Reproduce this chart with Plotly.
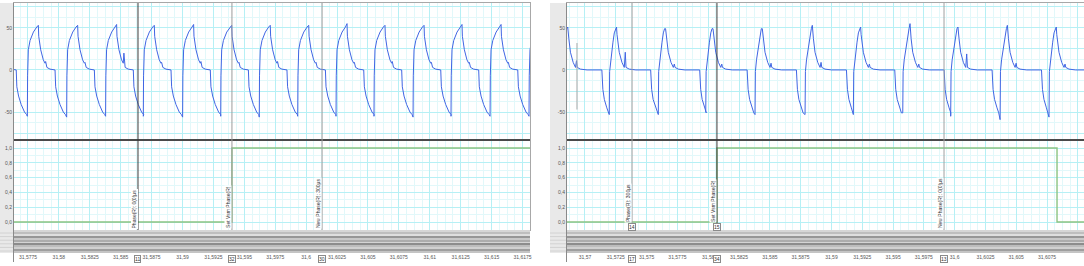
import plotly.graph_objects as go

W, H = 1084, 266
T0 = 31.57  # seconds; every time below is in ms after T0

# ---------------- left capture ----------------
left_range_ms = [6.37, 48.11]
left_jump_ms = [4.31, 7.45, 10.63, 13.78, 16.83, 20.01, 23.09, 26.21, 29.32, 32.42, 35.49, 38.65, 41.72, 44.88, 48.03]
left_trough = [-54, -55, -56, -55, -55, -56, -55, -56, -55, -55, -55, -56, -55, -55, -55]
left_peak = [53, 53, 53, 54, 53, 54, 53, 53, 53, 55, 53, 53, 54, 54, 53]
left_bump = [9, 10, 9, 20, 9, 10, 9, 10, 9, 9, 10, 9, 9, 9, 9]
left_cycle_dt = [0.00, 0.02, 0.08, 0.22, 0.49, 0.76, 0.89, 0.92, 0.97, 1.08, 1.29, 1.43, 1.48, 1.52,
                 1.58, 1.83, 2.05, 2.24, 2.29, 2.43, 2.64, 2.91, 3.08]
left_cycle_y = ["trough", -7, 24, 35, 45, 51, "peak", 40, 33, 24, 12, 8, "bump", 6,
                3, 1, 0, 0, -20, -31, -41, -50, -53]
left_step_ms = [6.37, 24.00, 48.11]
left_step_val = [0, 1, 1]
left_marker_ms = [16.40, 24.00, 31.29]
left_marker_text = ["Phase(R): 0(0)µs", "Set Vsm Phase(R)", "New Phase(R): 300µs"]
left_marker_axis_ids = ["11", "32", "30"]
left_marker_plot_ids = [None, None, None]
left_tick_values = [31.5775, 31.58, 31.5825, 31.585, 31.5875, 31.59, 31.5925, 31.595, 31.5975,
                    31.6, 31.6025, 31.605, 31.6075, 31.61, 31.6125, 31.615, 31.6175]
left_tick_labels = ["31,5775", "31,58", "31,5825", "31,585", "31,5875", "31,59", "31,5925", "31,595",
                    "31,5975", "31,6", "31,6025", "31,605", "31,6075", "31,61", "31,6125", "31,615", "31,6175"]

# ---------------- right capture ----------------
right_range_ms = [-1.46, 40.50]
right_jump_ms = [-1.99, 1.97, 5.95, 9.80, 13.80, 17.86, 21.78, 25.79, 29.68, 33.69, 37.66]
right_trough = [-53, -53, -53, -50, -53, -53, -53, -51, -55, -59, -56]
right_peak = [51, 51, 49, 49, 49, 53, 51, 55, 51, 53, 51]
right_bump = [11, 21, 7, 7, 8, 9, 7, 7, 19, 8, 7]
right_cycle_dt = [0.00, 0.03, 0.12, 0.22, 0.30, 0.41, 0.51, 0.59, 0.63, 0.68, 0.81, 1.03, 1.22, 1.30,
                  1.36, 1.62, 2.16, 3.36, 3.44, 3.56, 3.76, 3.90]
right_cycle_y = ["trough", -2, 12, 22, 33, 44, 49, "peak", 42, 37, 21, 9, 3, "bump",
                 3, 1, 0, 0, -23, -35, -45, -51]
right_step_ms = [-1.46, 10.71, 38.31, 40.50]
right_step_val = [0, 1, 0, 0]
right_marker_ms = [3.82, 10.71, 29.14]
right_marker_text = ["Phase(R): 300µs", "Set Vsm Phase(R)", "New Phase(R): 0(0)µs"]
right_marker_axis_ids = ["17", "34", "13"]
right_marker_plot_ids = ["14", "15", None]
right_cursor_ms = [-0.65, -0.65]
right_cursor_val = [32, -47]
right_tick_values = [31.57, 31.5725, 31.575, 31.5775, 31.58, 31.5825, 31.585, 31.5875, 31.59,
                     31.5925, 31.595, 31.5975, 31.6, 31.6025, 31.605, 31.6075, 31.61]
right_tick_labels = ["31,57", "31,5725", "31,575", "31,5775", "31,58", "31,5825", "31,585", "31,5875",
                     "31,59", "31,5925", "31,595", "31,5975", "31,6", "31,6025", "31,605", "31,6075", "31,61"]

# grey levels of the striped track band (top to bottom)
band_grays = [214, 190, 222, 150, 200, 172, 212, 140, 188, 208, 158, 196]

# ---------------- styles ----------------
WAVE = "#4066e4"
STEP = "#8cc482"
GRID = "#b6f0f5"
GRID_MINOR = "#e2f8fa"
FRAME = "#a8a8a8"
TXT = "#555555"
FONT = "Liberation Sans"
marker_colors = {0: ["#3a3a3a", "#9c9c9c", "#9c9c9c"], 1: ["#a0a0a0", "#3a3a3a", "#a0a0a0"]}


def t(ms):
    return T0 + ms / 1000.0


def px_x(p):
    return p / W


def px_y(p):
    return 1 - p / H


def build_wave(starts, troughs, peaks, bumps, dts, shape):
    xs, ys = [], []
    for s, tr, pk, bp in zip(starts, troughs, peaks, bumps):
        subst = {"trough": tr, "peak": pk, "bump": bp}
        for d, v in zip(dts, shape):
            xs.append(t(s + d))
            ys.append(subst[v] if isinstance(v, str) else v)
    return xs, ys


def ax(n):
    return "" if n == 1 else str(n)


panels = [
    dict(x0=14, x1=530, strip=0, rng=left_range_ms,
         wave=build_wave(left_jump_ms, left_trough, left_peak, left_bump, left_cycle_dt, left_cycle_y),
         step=(left_step_ms, left_step_val), markers=left_marker_ms, mtext=left_marker_text,
         aids=left_marker_axis_ids, pids=left_marker_plot_ids,
         tv=left_tick_values, tl=left_tick_labels),
    dict(x0=567, x1=1084, strip=550, rng=right_range_ms,
         wave=build_wave(right_jump_ms, right_trough, right_peak, right_bump, right_cycle_dt, right_cycle_y),
         step=(right_step_ms, right_step_val), markers=right_marker_ms, mtext=right_marker_text,
         aids=right_marker_axis_ids, pids=right_marker_plot_ids,
         tv=right_tick_values, tl=right_tick_labels),
]

fig = go.Figure()
layout = dict(template="none", width=W, height=H, margin=dict(l=0, r=0, t=0, b=0, pad=0), autosize=False,
              paper_bgcolor="white", plot_bgcolor="white", showlegend=False,
              font=dict(family=FONT, size=5, color=TXT))
shapes, annotations = [], []

for i, p in enumerate(panels):
    nu, nl, nb = 3 * i + 1, 3 * i + 2, 3 * i + 3
    dom = [px_x(p["x0"]), px_x(p["x1"])]
    xr = [t(p["rng"][0]), t(p["rng"][1])]
    grid_x = dict(domain=dom, range=xr, showticklabels=False, ticks="", tick0=T0, dtick=0.0025,
                  showgrid=True, gridcolor=GRID, gridwidth=1, zeroline=False, automargin=False,
                  minor=dict(dtick=0.000625, showgrid=True, gridcolor=GRID_MINOR, gridwidth=1),
                  showline=True, mirror=True, linecolor=FRAME, linewidth=1)
    layout["xaxis" + ax(nu)] = dict(grid_x, anchor="y" + ax(nu))
    layout["xaxis" + ax(nl)] = dict(grid_x, anchor="y" + ax(nl))
    layout["xaxis" + ax(nb)] = dict(domain=dom, range=xr, anchor="y" + ax(nb), tickmode="array",
                                    tickvals=p["tv"], ticktext=p["tl"], ticks="", tickangle=0,
                                    showgrid=False, zeroline=False, showline=False, automargin=False,
                                    tickfont=dict(size=5, color=TXT, family=FONT))
    layout["yaxis" + ax(nu)] = dict(domain=[px_y(139), px_y(3)], range=[-82, 79.5], anchor="x" + ax(nu),
                                    tickmode="array", tickvals=[-75, -50, -25, 0, 25, 50, 75],
                                    ticktext=["", "-50", "", "0", "", "50", ""], ticks="",
                                    showgrid=True, gridcolor=GRID, zeroline=False, automargin=False,
                                    minor=dict(dtick=12.5, showgrid=True, gridcolor=GRID_MINOR),
                                    showline=True, mirror=True, linecolor=FRAME,
                                    tickfont=dict(size=5, color=TXT, family=FONT))
    layout["yaxis" + ax(nl)] = dict(domain=[px_y(230), px_y(141)], range=[-0.108, 1.095], anchor="x" + ax(nl),
                                    tickmode="array", tickvals=[0, 0.2, 0.4, 0.6, 0.8, 1.0],
                                    ticktext=["0,0", "0,2", "0,4", "0,6", "0,8", "1,0"], ticks="",
                                    showgrid=True, gridcolor=GRID, zeroline=False, automargin=False,
                                    minor=dict(dtick=0.1, showgrid=True, gridcolor=GRID_MINOR),
                                    showline=True, mirror=True, linecolor=FRAME,
                                    tickfont=dict(size=5, color=TXT, family=FONT))
    layout["yaxis" + ax(nb)] = dict(domain=[px_y(253), px_y(230)], range=[len(band_grays), 0],
                                    anchor="x" + ax(nb), visible=False, automargin=False)

    # traces
    wx, wy = p["wave"]
    fig.add_trace(go.Scatter(x=wx, y=wy, mode="lines", line=dict(color=WAVE, width=1),
                             xaxis="x" + ax(nu), yaxis="y" + ax(nu), hoverinfo="skip"))
    sx, sy = p["step"]
    fig.add_trace(go.Scatter(x=[t(v) for v in sx], y=sy, mode="lines", line=dict(color=STEP, width=1.4, shape="hv"),
                             xaxis="x" + ax(nl), yaxis="y" + ax(nl), hoverinfo="skip"))
    fig.add_trace(go.Heatmap(z=[[g] for g in band_grays], x=xr, y=list(range(len(band_grays) + 1)),
                             colorscale=[[0, "rgb(0,0,0)"], [1, "rgb(255,255,255)"]], zmin=0, zmax=255,
                             showscale=False, hoverinfo="skip", xaxis="x" + ax(nb), yaxis="y" + ax(nb)))
    if i == 1:
        fig.add_trace(go.Scatter(x=[t(v) for v in right_cursor_ms], y=right_cursor_val, mode="lines",
                                 line=dict(color="#a8a8a8", width=1), xaxis="x" + ax(nu), yaxis="y" + ax(nu),
                                 hoverinfo="skip"))

    # left grey label strip
    shapes.append(dict(type="rect", xref="paper", yref="paper", x0=px_x(p["strip"]), x1=px_x(p["x0"] - 1),
                       y0=px_y(253), y1=px_y(3), fillcolor="#e9e9e9", line=dict(width=0), layer="below"))
    for k in range(6):
        yy = 233 + k * 3.6
        shapes.append(dict(type="line", xref="paper", yref="paper", x0=px_x(p["strip"]), x1=px_x(p["x0"] - 1),
                           y0=px_y(yy), y1=px_y(yy), line=dict(color="#d2d2d2", width=1), layer="below"))
    shapes.append(dict(type="line", xref="paper", yref="paper", x0=px_x(p["x0"] - 0.5), x1=px_x(p["x0"] - 0.5),
                       y0=px_y(262), y1=px_y(3), line=dict(color="#8a8a8a", width=1)))
    # dark separator between the two plots
    shapes.append(dict(type="line", xref="paper", yref="paper", x0=px_x(p["x0"]), x1=px_x(p["x1"]),
                       y0=px_y(140), y1=px_y(140), line=dict(color="#4a4a4a", width=2)))
    # event markers
    for j, m in enumerate(p["markers"]):
        shapes.append(dict(type="line", xref="x" + ax(nu), yref="paper", x0=t(m), x1=t(m),
                           y0=px_y(230), y1=px_y(3), line=dict(color=marker_colors[i][j], width=1)))
        pid = p["pids"][j]
        annotations.append(dict(text=p["mtext"][j], xref="x" + ax(nl), yref="paper", x=t(m),
                                y=px_y(223 if pid else 229), xanchor="right", yanchor="bottom",
                                textangle=-90, showarrow=False, bgcolor="white", borderpad=0,
                                font=dict(size=5, color="#333333", family=FONT)))
        if pid:
            annotations.append(dict(text=pid, xref="x" + ax(nl), yref="paper", x=t(m), y=px_y(226.5),
                                    xanchor="center", yanchor="middle", showarrow=False, bgcolor="white",
                                    bordercolor="#8a8a8a", borderwidth=1, borderpad=0,
                                    font=dict(size=5, color="#333333", family=FONT)))
        annotations.append(dict(text=p["aids"][j], xref="x" + ax(nb), yref="paper", x=t(m), y=px_y(258.5),
                                xanchor="center", yanchor="middle", showarrow=False, bgcolor="white",
                                bordercolor="#8a8a8a", borderwidth=1, borderpad=0,
                                font=dict(size=5, color="#333333", family=FONT)))

layout["shapes"] = shapes
layout["annotations"] = annotations
fig.update_layout(**layout)
fig.write_html("out.html", config={"displayModeBar": False},
               post_script="document.body.style.margin='0';document.body.style.overflow='hidden';")
